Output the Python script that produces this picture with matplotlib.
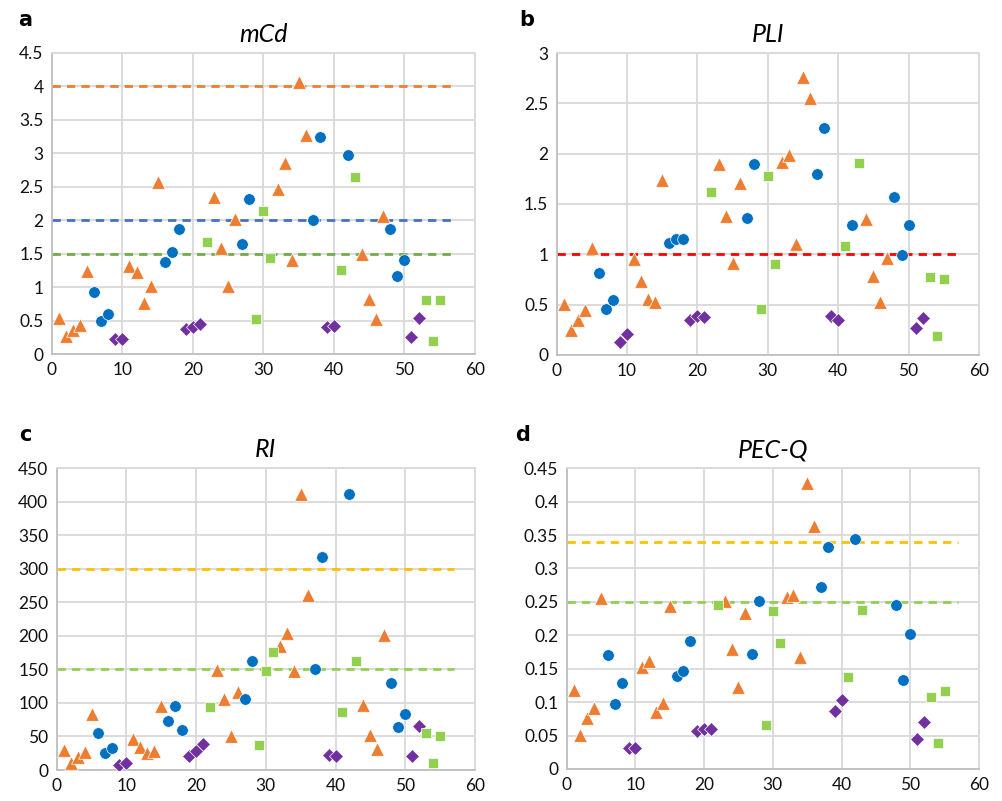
import numpy as np
import matplotlib
matplotlib.use("Agg")
import matplotlib.pyplot as plt
from matplotlib.ticker import FuncFormatter, MultipleLocator

plt.rcParams['font.family'] = ['Lato', 'DejaVu Sans']

# sample numbers of each group
orange_x = [1, 2, 3, 4, 5, 11, 12, 13, 14, 15, 23, 24, 25, 26, 32, 33, 34, 35, 36, 44, 45, 46, 47]
blue_x = [6, 7, 8, 16, 17, 18, 27, 28, 37, 38, 42, 48, 49, 50]
purple_x = [9, 10, 19, 20, 21, 39, 40, 51, 52]
green_x = [22, 29, 30, 31, 41, 43, 53, 54, 55]

# mCd
mcd_orange = [0.54, 0.27, 0.36, 0.44, 1.24, 1.31, 1.22, 0.77, 1.01, 2.57, 2.34, 1.58, 1.02, 2.02,
              2.46, 2.86, 1.41, 4.06, 3.28, 1.50, 0.82, 0.52, 2.06]
mcd_blue = [0.92, 0.49, 0.60, 1.38, 1.52, 1.87, 1.64, 2.31, 2.00, 3.25, 2.98, 1.87, 1.16, 1.41]
mcd_purple = [0.22, 0.23, 0.37, 0.41, 0.45, 0.41, 0.42, 0.26, 0.54]
mcd_green = [1.68, 0.52, 2.14, 1.43, 1.25, 2.65, 0.80, 0.20, 0.80]

# PLI
pli_orange = [0.51, 0.25, 0.35, 0.45, 1.06, 0.95, 0.73, 0.56, 0.53, 1.74, 1.90, 1.38, 0.91, 1.71,
              1.92, 1.99, 1.10, 2.76, 2.55, 1.35, 0.78, 0.53, 0.96]
pli_blue = [0.81, 0.46, 0.55, 1.11, 1.15, 1.15, 1.36, 1.90, 1.80, 2.26, 1.29, 1.57, 0.99, 1.29]
pli_purple = [0.13, 0.21, 0.35, 0.39, 0.38, 0.39, 0.35, 0.27, 0.37]
pli_green = [1.62, 0.46, 1.78, 0.90, 1.08, 1.91, 0.77, 0.19, 0.75]

# RI
ri_orange = [30, 10, 19, 27, 83, 46, 35, 26, 28, 95, 149, 106, 50, 116,
             185, 204, 148, 412, 261, 97, 52, 32, 201]
ri_blue = [55, 25, 33, 73, 95, 59, 106, 162, 150, 317, 412, 130, 64, 84]
ri_purple = [7, 10, 21, 28, 39, 22, 21, 21, 66]
ri_green = [94, 37, 147, 176, 87, 162, 55, 10, 50]

# PEC-Q (no values for samples 44-47 of the orange group)
pecq_orange = [0.118, 0.051, 0.076, 0.091, 0.256, 0.152, 0.162, 0.085, 0.099, 0.244, 0.251, 0.179,
               0.122, 0.234, 0.258, 0.261, 0.168, 0.428, 0.363, np.nan, np.nan, np.nan, np.nan]
pecq_blue = [0.171, 0.097, 0.128, 0.139, 0.147, 0.192, 0.172, 0.251, 0.272, 0.332, 0.344, 0.246, 0.133, 0.202]
pecq_purple = [0.031, 0.031, 0.057, 0.060, 0.060, 0.087, 0.103, 0.045, 0.070]
pecq_green = [0.245, 0.066, 0.236, 0.188, 0.138, 0.238, 0.107, 0.039, 0.117]

# reference lines: (value, colour)
mcd_lines = [(4, '#ED7D31'), (2, '#4472C4'), (1.5, '#70AD47')]
pli_lines = [(1, '#FF0000')]
ri_lines = [(300, '#FFC000'), (150, '#92D050')]
pecq_lines = [(0.34, '#FFC000'), (0.25, '#92D050')]

panels = [
    ('a', 'mCd', [0.0518, 0.558, 0.4217, 0.376], 4.5, 0.5,
     (mcd_orange, mcd_blue, mcd_purple, mcd_green), mcd_lines, (25, 20)),
    ('b', 'PLI', [0.555, 0.557, 0.421, 0.3767], 3, 0.5,
     (pli_orange, pli_blue, pli_purple, pli_green), pli_lines, (527, 20)),
    ('c', 'RI', [0.0565, 0.0387, 0.417, 0.3767], 450, 50,
     (ri_orange, ri_blue, ri_purple, ri_green), ri_lines, (25, 435)),
    ('d', 'PEC-Q', [0.565, 0.040, 0.411, 0.3754], 0.45, 0.05,
     (pecq_orange, pecq_blue, pecq_purple, pecq_green), pecq_lines, (523, 435)),
]

fig = plt.figure(figsize=(10.03, 8.01), dpi=100)

for letter, title, rect, ymax, ystep, vals, lines, lpos in panels:
    ax = fig.add_axes(rect)
    ax.set_xlim(0, 60)
    ax.set_ylim(0, ymax)
    ax.xaxis.set_major_locator(MultipleLocator(10))
    ax.yaxis.set_major_locator(MultipleLocator(ystep))
    ax.yaxis.set_major_formatter(FuncFormatter(lambda v, p: f'{round(v, 4):g}'))
    ax.grid(True, color='#D9D9D9', lw=1.3)
    ax.set_axisbelow(True)
    for s in ax.spines.values():
        s.set_color('#D9D9D9')
        s.set_linewidth(1.3)
    ax.spines['bottom'].set_color('#BFBFBF')
    ax.spines['left'].set_color('#BFBFBF')
    ax.tick_params(length=0, labelsize=12.5, colors='#111111', pad=6)

    for val, col in lines:
        ax.plot([0, 57], [val, val], color=col, lw=2, ls=(0, (3, 2.2)), zorder=2)

    o, b, p, g = vals
    ax.scatter(orange_x, o, marker='^', s=95, color='#ED7D31', edgecolors='white', linewidths=0.5, zorder=3)
    ax.scatter(blue_x, b, marker='o', s=70, color='#0070C0', edgecolors='white', linewidths=0.5, zorder=3)
    ax.scatter(purple_x, p, marker='D', s=50, color='#7030A0', edgecolors='white', linewidths=0.5, zorder=3)
    ax.scatter(green_x, g, marker='s', s=60, color='#92D050', edgecolors='white', linewidths=0.5, zorder=3)

    ax.set_title(title, fontsize=18, style='italic', pad=8)
    fig.text(lpos[0] / 1003, 1 - lpos[1] / 801, letter, fontsize=15, fontweight='bold',
             ha='center', va='center', family='DejaVu Sans')

fig.savefig('out.png', dpi=100)
